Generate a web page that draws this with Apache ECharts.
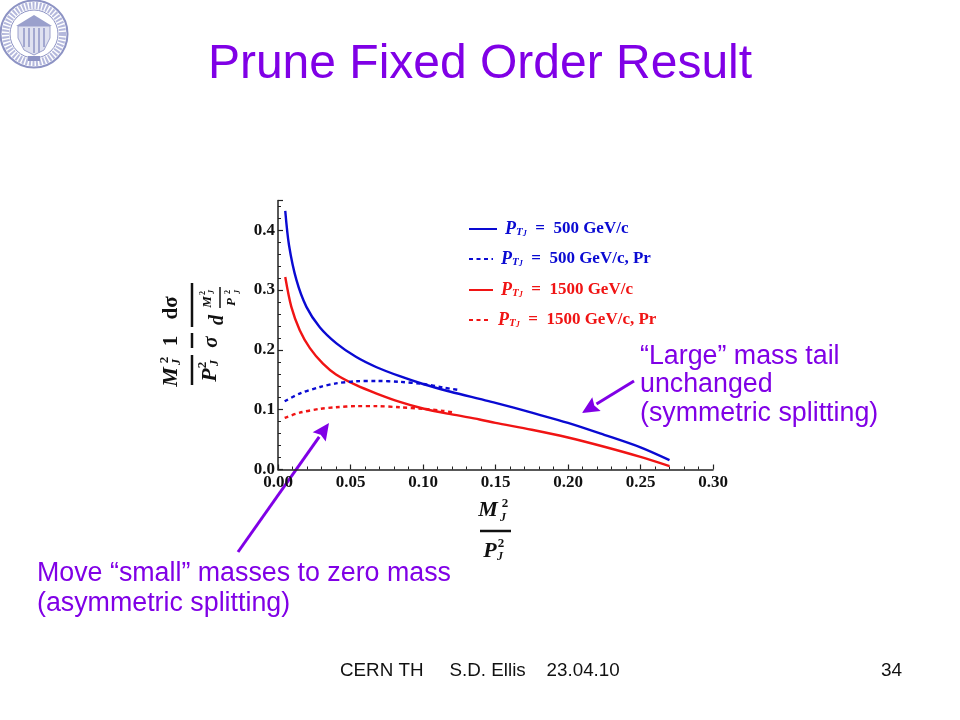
<!DOCTYPE html>
<html><head><meta charset="utf-8">
<style>html,body{margin:0;padding:0;background:#fff}#c{width:960px;height:720px}</style>
<script src="https://cdn.jsdelivr.net/npm/echarts@6/dist/echarts.min.js"></script>
</head><body><div id="c"></div>
<script>
const blue500 = [[0.005,0.4325],[0.0076,0.375],[0.0127,0.317],[0.0196,0.272],[0.0288,0.238],[0.0403,0.211],[0.054,0.188],[0.068,0.171],[0.084,0.156],[0.1,0.143],[0.119,0.13],[0.139,0.118],[0.15,0.1115],[0.175,0.095],[0.2,0.078],[0.225,0.058],[0.25,0.037],[0.27,0.0156]];
const blue500Pr = [[0.0046,0.114],[0.015,0.127],[0.029,0.138],[0.04,0.144],[0.054,0.1475],[0.068,0.148],[0.084,0.1466],[0.1,0.143],[0.114,0.137],[0.1254,0.1326]];
const red1500 = [[0.005,0.322],[0.0092,0.272],[0.015,0.233],[0.022,0.203],[0.031,0.177],[0.04,0.159],[0.054,0.141],[0.068,0.127],[0.084,0.113],[0.1,0.102],[0.119,0.0925],[0.139,0.0836],[0.15,0.078],[0.175,0.0665],[0.2,0.0535],[0.225,0.038],[0.25,0.021],[0.27,0.0056]];
const red1500Pr = [[0.0046,0.0864],[0.015,0.095],[0.029,0.1015],[0.04,0.104],[0.054,0.106],[0.068,0.106],[0.084,0.104],[0.1,0.1015],[0.114,0.098],[0.12,0.0958]];
const names = ['PTJ = 500 GeV/c','PTJ = 500 GeV/c, Pr','PTJ = 1500 GeV/c','PTJ = 1500 GeV/c, Pr'];
const BLUE='#0a0ad2', RED='#f01414', PURPLE='#8000e6', INK='#111';
const serif='"Liberation Serif"', sans='"Liberation Sans"';

function ser(name,data,color,dashed){return {name,type:'line',data,smooth:0.3,showSymbol:false,symbol:'none',
  lineStyle:{color,width:2.4,type:dashed?[4,3.5]:'solid'},itemStyle:{color},z:dashed?3:2,silent:true};}
function leg(name,left,top,w,color){return {data:[name],left,top,itemWidth:w,itemHeight:10,itemGap:5,padding:0,selectedMode:false,
  itemStyle:{opacity:0},
  formatter:()=>'{p|P}{s|T}{j|J}{t|  =  '+name.slice(6)+'}',
  textStyle:{color,rich:{
    p:{fontFamily:serif,fontStyle:'italic',fontWeight:'bold',fontSize:18,color,padding:[0,0,0,3]},
    s:{fontFamily:serif,fontStyle:'italic',fontWeight:'bold',fontSize:11,color,verticalAlign:'bottom',padding:[7,0,0,0]},
    j:{fontFamily:serif,fontStyle:'italic',fontWeight:'bold',fontSize:8,color,verticalAlign:'bottom',padding:[10,0,0,0]},
    t:{fontFamily:serif,fontWeight:'bold',fontSize:17,color}}}};}
function txt(text,x,y,size,fill){return {type:'text',x,y,silent:true,style:{text,fontFamily:sans,fontSize:size,fill,textVerticalAlign:'middle'}};}
function arrow(x1,y1,x2,y2,hw,hl){
  const a=Math.atan2(y2-y1,x2-x1),c=Math.cos(a),s=Math.sin(a),bx=x2-hl*c,by=y2-hl*s;
  return [{type:'line',silent:true,shape:{x1,y1,x2:bx,y2:by},style:{stroke:PURPLE,lineWidth:3}},
   {type:'polygon',silent:true,shape:{points:[[x2,y2],[bx-hw*s,by+hw*c],[x2-hl*0.85*c,y2-hl*0.85*s],[bx+hw*s,by-hw*c]]},style:{fill:PURPLE}}];}
function m(t,x,y,size,italic,rot){const e={type:'text',x,y,silent:true,style:{text:t,fontFamily:serif,fontWeight:'bold',fontStyle:italic?'italic':'normal',fontSize:size,fill:INK,textAlign:'center',textVerticalAlign:'middle'}};if(rot)e.rotation=Math.PI/2;return e;}
function ln(x1,y1,x2,y2,w){return {type:'line',silent:true,shape:{x1,y1,x2,y2},style:{stroke:INK,lineWidth:w||2.5}};}
function seal(){
  const cx=34,cy=34,els=[];
  els.push({type:'circle',silent:true,shape:{cx,cy,r:33.5},style:{fill:'#fff',stroke:'#8d93c4',lineWidth:2}});
  els.push({type:'circle',silent:true,shape:{cx,cy,r:28.5},style:{fill:'none',stroke:'#b4b8dc',lineWidth:7,lineDash:[2,1.4]}});
  els.push({type:'circle',silent:true,shape:{cx,cy,r:24},style:{fill:'#fff',stroke:'#8d93c4',lineWidth:1}});
  els.push({type:'polygon',silent:true,shape:{points:[[18,26],[50,26],[50,38],[44,50],[34,55],[24,50],[18,38]]},style:{fill:'#dfe1f0',stroke:'#9ba0cc',lineWidth:1}});
  [23,28,33,38,43].forEach(x=>els.push({type:'line',silent:true,shape:{x1:x+1,y1:28,x2:x+1,y2:x>28&&x<40?53:47},style:{stroke:'#a3a8d0',lineWidth:2}}));
  els.push({type:'polygon',silent:true,shape:{points:[[16,26],[34,15],[52,26]]},style:{fill:'#9aa0cc'}});
  els.push({type:'rect',silent:true,shape:{x:28,y:56,width:12,height:5},style:{fill:'#8d93c4'}});
  return {type:'group',silent:true,children:els};
}
const xTitle=[m('M',488,510,22,true),m('2',505,504,13),m('J',503,518,12,true),ln(480,531,511,531),
  m('P',490,551,22,true),m('2',501,544,13),m('J',500,557,12,true)];
const yTitle=[m('M',171,377,22,true,1),m('2',165,360,13,false,1),m('J',177,362,12,true,1),ln(192,355,192,385),
  m('P',210,375,22,true,1),m('2',203,365,13,false,1),m('J',215,363,12,true,1),
  m('1',172,341,21,false,1),ln(192,333,192,348),m('σ',212,342,21,true,1),
  m('dσ',172,308,21,false,1),ln(192,283,192,327),m('d',218,320,20,true,1),
  m('M',208,302,13,true,1),m('2',203,293,8,false,1),m('J',212,292,8,true,1),ln(220,287,220,308,1.5),
  m('P',232,302,13,true,1),m('2',228,292,8,false,1),m('J',238,292,8,true,1)];
const axisCommon={type:'value',splitLine:{show:false},
  axisTick:{inside:true,length:5,lineStyle:{color:'#222',width:1.2}},
  minorTick:{show:true,splitNumber:5,length:3,lineStyle:{color:'#222',width:1}}};
const option={
  animation:false,backgroundColor:'#fff',
  grid:{left:278,right:247,top:200.4,bottom:250.5},
  title:{text:'Prune Fixed Order Result',left:475,top:36,textAlign:'center',textStyle:{color:PURPLE,fontFamily:sans,fontWeight:'normal',fontSize:48}},
  legend:[leg(names[0],468,220,28,BLUE),leg(names[1],468,250,24,BLUE),leg(names[2],468,281,24,RED),leg(names[3],468,311,21,RED)],
  xAxis:Object.assign({},axisCommon,{min:0,max:0.30,interval:0.05,axisLine:{onZero:false,lineStyle:{color:'#222',width:1.5}},
    axisLabel:{formatter:v=>v.toFixed(2),margin:5,color:INK,fontFamily:serif,fontWeight:'bold',fontSize:17,showMinLabel:true,showMaxLabel:true}}),
  yAxis:Object.assign({},axisCommon,{min:0,max:0.45,interval:0.1,axisLine:{lineStyle:{color:'#222',width:1.5}},
    axisLabel:{formatter:v=>v>0.41?'':v.toFixed(1),margin:3,color:INK,fontFamily:serif,fontWeight:'bold',fontSize:17}}),
  series:[ser(names[0],blue500,BLUE,false),ser(names[1],blue500Pr,BLUE,true),ser(names[2],red1500,RED,false),ser(names[3],red1500Pr,RED,true)],
  graphic:[
    seal(),
    txt('“Large” mass tail',640,357,26.8,PURPLE),txt('unchanged',640,385,26.8,PURPLE),txt('(symmetric splitting)',640,414,26.8,PURPLE),
    txt('Move “small” masses to zero mass',37,574,26.8,PURPLE),txt('(asymmetric splitting)',37,604,26.8,PURPLE),
    txt('CERN TH     S.D. Ellis    23.04.10',340,671,18.8,'#111'),txt('34',881,671,19,'#111'),
    ...arrow(238,552,329,423,8,17),...arrow(634,381,582,413,8,17),
    {type:'group',silent:true,children:xTitle},
    {type:'group',silent:true,children:yTitle}
  ]
};
const chart=echarts.init(document.getElementById('c'),null,{renderer:'canvas'});
chart.setOption(option);
</script></body></html>
